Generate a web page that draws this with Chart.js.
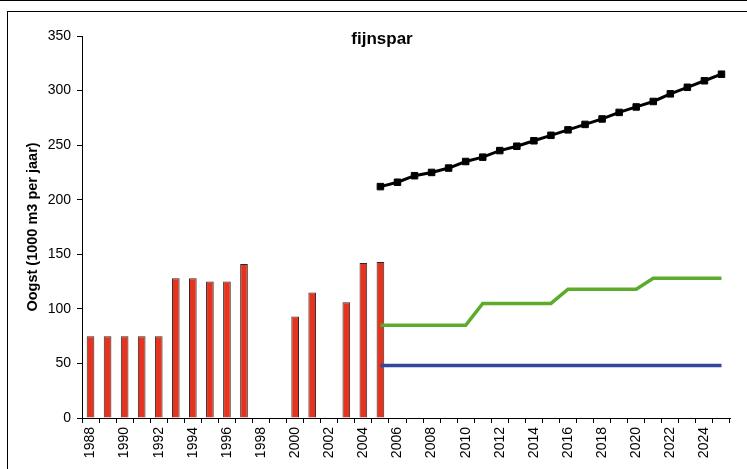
<!DOCTYPE html>
<html>
<head>
<meta charset="utf-8">
<script src="https://cdn.jsdelivr.net/npm/chart.js@4/dist/chart.umd.min.js"></script>
<style>
  html, body { margin: 0; padding: 0; background: #fff; overflow: hidden; }
  #wrap { position: relative; width: 747px; height: 469px; }
  #topline { position: absolute; left: 0; top: 0; width: 747px; height: 1px; background: #000; }
  #box { position: absolute; left: 7px; top: 11px; width: 800px; height: 600px; border-left: 1px solid #000; border-top: 1px solid #000; }
  canvas { position: absolute; left: 0; top: 0; }
</style>
</head>
<body>
<div id="wrap">
  <div id="topline"></div>
  <div id="box"></div>
  <canvas id="c" width="747" height="469"></canvas>
</div>
<script>
const chartTitle = 'fijnspar';
const yAxisTitle = 'Oogst (1000 m3 per jaar)';
const years = ['1988','1989','1990','1991','1992','1993','1994','1995','1996','1997',
  '1998','1999','2000','2001','2002','2003','2004','2005','2006','2007','2008','2009',
  '2010','2011','2012','2013','2014','2015','2016','2017','2018','2019','2020','2021',
  '2022','2023','2024','2025'];
const harvest = [75,75,75,75,75,128,128,125,125,141,null,null,93,115,null,106,142,143,
  null,null,null,null,null,null,null,null,null,null,null,null,null,null,null,null,null,null,null,null];
const blackSeries = [null,null,null,null,null,null,null,null,null,null,null,null,null,null,null,null,null,
  212,216,222,225,229,235,239,245,249,254,259,264,269,274,280,285,290,297,303,309,315];
const greenSeries = [null,null,null,null,null,null,null,null,null,null,null,null,null,null,null,null,null,
  85,85,85,85,85,85,105,105,105,105,105,118,118,118,118,118,128,128,128,128,128];
const blueSeries = [null,null,null,null,null,null,null,null,null,null,null,null,null,null,null,null,null,
  48,48,48,48,48,48,48,48,48,48,48,48,48,48,48,48,48,48,48,48,48];
const yTicks = [0,50,100,150,200,250,300,350];

const FONT = '"Liberation Sans", Arial, sans-serif';

const titlePlugin = {
  id: 'customTitle',
  afterDraw(chart) {
    const ctx = chart.ctx;
    ctx.save();
    ctx.font = 'bold 17px ' + FONT;
    ctx.fillStyle = '#000';
    ctx.textAlign = 'center';
    ctx.textBaseline = 'middle';
    ctx.fillText(chartTitle, 382, 39);
    ctx.restore();
  }
};

new Chart(document.getElementById('c'), {
  type: 'bar',
  data: {
    labels: years,
    datasets: [
      { type: 'line', data: blackSeries, borderColor: '#000', backgroundColor: '#000',
        borderWidth: 3, pointStyle: 'rect', pointRadius: 4.6, pointBorderWidth: 1,
        pointBackgroundColor: '#000', pointBorderColor: '#000', tension: 0, order: 0 },
      { type: 'line', data: greenSeries, borderColor: '#5CAB2B', borderWidth: 3.5,
        pointRadius: 0, tension: 0, order: 1 },
      { type: 'line', data: blueSeries, borderColor: '#33479B', borderWidth: 3.5,
        pointRadius: 0, tension: 0, order: 2 },
      { type: 'bar', data: harvest, backgroundColor: '#E5331F', borderColor: '#2a2a2a',
        borderWidth: 1, barPercentage: 1, categoryPercentage: 0.45, order: 3 }
    ]
  },
  options: {
    responsive: false,
    animation: false,
    devicePixelRatio: 1,
    layout: { padding: { left: 0, right: 17, top: 36, bottom: 0 } },
    plugins: { legend: { display: false }, tooltip: { enabled: false }, title: { display: false } },
    scales: {
      x: {
        offset: true,
        grid: { display: true, offset: true, drawOnChartArea: false, drawTicks: true, tickLength: 5, color: '#000' },
        border: { display: true, color: '#000', width: 1 },
        ticks: {
          autoSkip: false, maxRotation: 90, minRotation: 90, padding: 4,
          color: '#000', font: { family: FONT, size: 14 },
          callback: function(v, i) { const y = years[i]; return (parseInt(y) % 2 === 0) ? y : ''; }
        },
        afterFit: function(s) { s.height = 51; }
      },
      y: {
        min: 0, max: 350,
        afterBuildTicks: function(s) { s.ticks = yTicks.map(v => ({ value: v })); },
        grid: { display: true, drawOnChartArea: false, drawTicks: true, tickLength: 5, color: '#000' },
        border: { display: true, color: '#000', width: 1 },
        ticks: { color: '#000', padding: 6, font: { family: FONT, size: 14 } },
        title: { display: true, text: yAxisTitle, color: '#000', padding: { top: 24, bottom: 0 },
          font: { family: FONT, size: 14.5, weight: 'bold' } },
        afterFit: function(s) { s.width = 82; }
      }
    }
  },
  plugins: [titlePlugin]
});
</script>
</body>
</html>
